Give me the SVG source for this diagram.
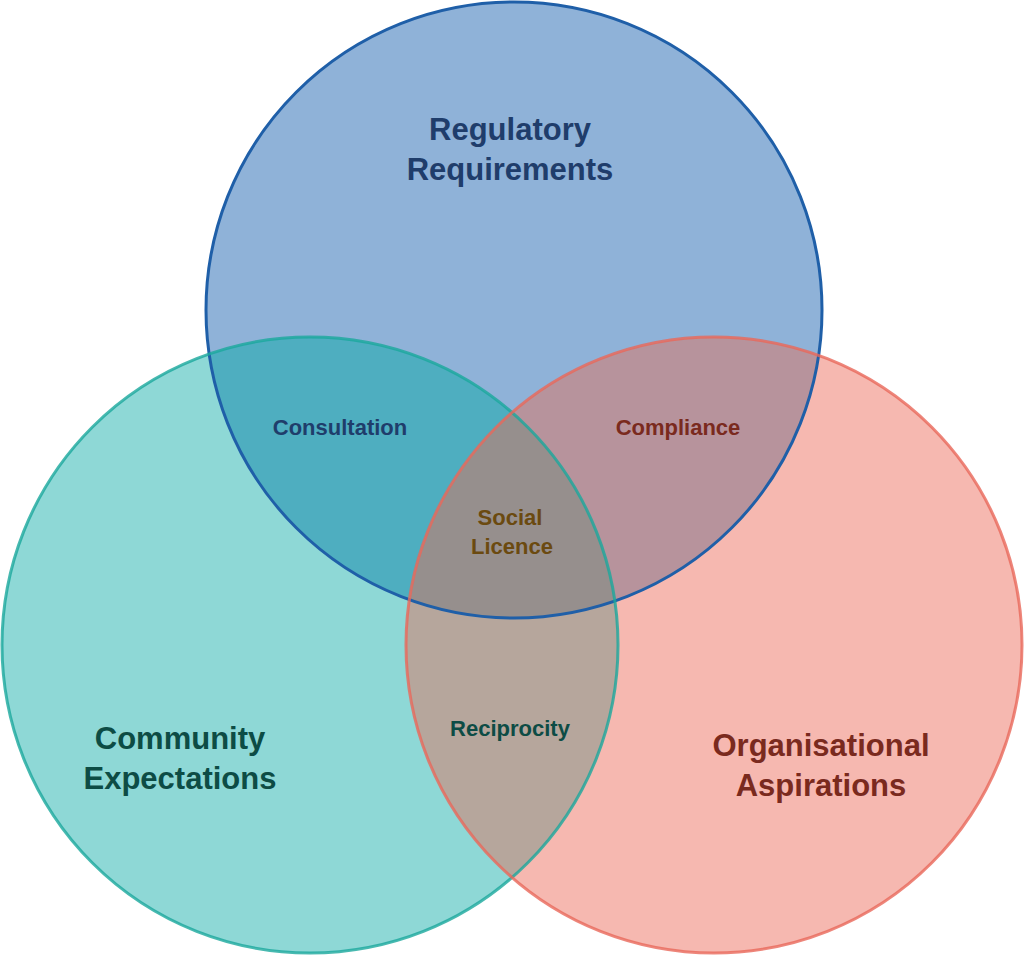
<svg xmlns="http://www.w3.org/2000/svg" width="1024" height="955" viewBox="0 0 1024 955">
<style>
text{font-family:"Liberation Sans",Arial,sans-serif;font-weight:bold;text-anchor:middle}
.big{font-size:31px}.sm{font-size:22px}
.ring{fill:none;stroke-width:3}
</style>
<defs>
<clipPath id="cT"><circle cx="514" cy="310" r="308"/></clipPath>
<clipPath id="cL"><circle cx="310" cy="645" r="308"/></clipPath>
<clipPath id="cR"><circle cx="714" cy="645" r="308"/></clipPath>
</defs>
<g id="circles">
<circle id="top" cx="514" cy="310" r="308" fill="#8fb2d8"/>
<circle id="left" cx="310" cy="645" r="308" fill="#8ed8d6"/>
<circle id="right" cx="714" cy="645" r="308" fill="#f6b8b0"/>
<g clip-path="url(#cT)"><circle cx="310" cy="645" r="308" fill="#4eaec0"/><circle cx="714" cy="645" r="308" fill="#b7939c"/></g>
<g clip-path="url(#cL)"><circle cx="714" cy="645" r="308" fill="#b6a69c"/></g>
<g clip-path="url(#cT)"><g clip-path="url(#cL)"><circle cx="714" cy="645" r="308" fill="#968f8d"/></g></g>
<circle class="ring" cx="514" cy="310" r="308" stroke="#1f5fa8"/>
<circle class="ring" cx="310" cy="645" r="308" stroke="#1aa89c" stroke-opacity="0.8"/>
<circle class="ring" cx="714" cy="645" r="308" stroke="#e8685a" stroke-opacity="0.8"/>
</g>
<g id="labels">
<text class="big" x="510" y="140" fill="#1f3d6b">Regulatory</text>
<text class="big" x="510" y="180" fill="#1f3d6b">Requirements</text>
<text class="big" x="180" y="749" fill="#0d4c45">Community</text>
<text class="big" x="180" y="789" fill="#0d4c45">Expectations</text>
<text class="big" x="821" y="756" fill="#7a2a1e">Organisational</text>
<text class="big" x="821" y="796" fill="#7a2a1e">Aspirations</text>
<text class="sm" x="340" y="435" fill="#1f3d6b">Consultation</text>
<text class="sm" x="678" y="435" fill="#7a2a1e">Compliance</text>
<text class="sm" x="510" y="525" fill="#6b4a10">Social</text>
<text class="sm" x="512" y="554" fill="#6b4a10">Licence</text>
<text class="sm" x="510" y="736" fill="#0d4c45">Reciprocity</text>
</g>
</svg>
